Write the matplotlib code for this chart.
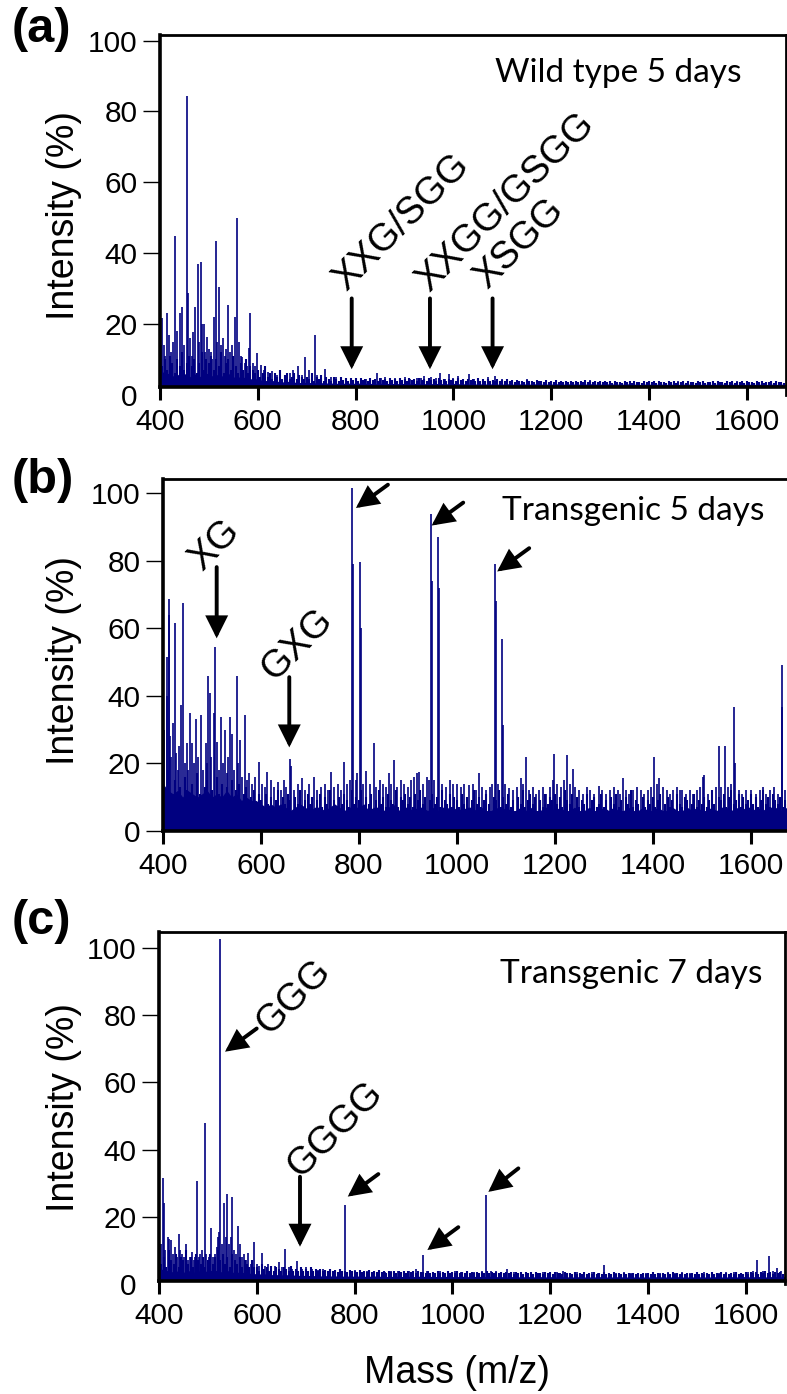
import numpy as np
import matplotlib
matplotlib.use('Agg')
import matplotlib.pyplot as plt

plt.rcParams['font.family'] = ['Liberation Sans', 'DejaVu Sans']

NAVY = '#000080'

# ---------------- data ----------------
grid_mass = list(range(400, 1681, 10))     # solid baseline-fill sampling (10 Da)
noise_mass = list(range(400, 1680, 5))     # noise-stick sampling (5 Da)

# ---- Panel (a) Wild type 5 days ----
a_env = [7, 6, 6, 5, 6, 6, 5, 6, 5, 6, 6, 5, 6, 5, 6, 5, 5, 5, 4.5, 4.5,
         4.5, 4, 4, 4, 3.8, 3.6, 3.8, 3.6, 3.5, 3.4, 3.5, 3.4, 3.3, 3.4, 3.3, 3.3, 3.2, 3.3, 3.2, 3.3,
         3.2, 3.3, 3.2, 3.2, 3.1, 3.2, 3.3, 3.1, 3.2, 3.1, 3.2, 3.1, 3.2, 3.1, 3.1, 3.2, 3.1, 3.2, 3.1, 3.1,
         3.2, 3.1, 3.1, 3.0, 3.1, 3.0, 3.1, 3.0, 3.1, 3.0, 3.0, 3.1, 3.0, 3.0, 3.1, 3.0, 3.0, 3.1, 3.0, 3.0,
         3.0, 3.1, 3.0, 3.0, 3.1, 3.0, 3.0, 3.0, 3.1, 3.0, 3.0, 3.0, 3.1, 3.0, 3.0, 3.0, 3.1, 3.0, 2.9, 3.0,
         3.0, 2.9, 3.0, 3.0, 2.9, 3.0, 2.9, 3.0, 3.0, 2.9, 3.0, 2.9, 3.0, 2.9, 3.0, 3.0, 2.9, 3.0, 2.9, 3.0,
         2.9, 3.0, 2.9, 3.0, 2.9, 3.0, 2.9, 3.0, 2.9]
a_noise = [12, 8, 10, 7, 11, 9, 6, 10, 8, 12, 7, 9, 11, 8, 10, 6, 9, 12, 7, 10,
           9, 11, 7, 10, 8, 12, 6, 9, 10, 7, 11, 8, 6, 9, 7, 10, 6, 8, 7, 6,
           7, 5, 6, 8, 5, 6, 4.5, 6, 5, 7, 4.5, 5.5, 6, 4.5, 5, 6, 4.5, 5.5, 5, 4.5,
           5, 4.5, 6, 4, 5, 4.5, 5.5, 4, 5, 4.5, 4, 5, 4.5, 4, 5, 4.2, 4.6, 4, 4.8, 4.2,
           4.6, 4, 4.8, 4.2, 4.5, 4, 4.7, 4.1, 4.5, 4, 4.8, 4.2, 4.4, 4, 4.6, 4.1, 4.4, 4, 4.6, 4.2,
           4.4, 4, 4.7, 4.1, 4.5, 3.9, 4.6, 4.2, 4.4, 4, 4.8, 4.1, 4.5, 3.9, 4.6, 4.2, 4.4, 4, 4.5, 4.1,
           4.5, 4, 4.6, 4.1, 4.4, 3.9, 4.5, 4.1, 4.3, 3.9, 4.6, 4, 4.3, 3.9, 4.5, 4, 4.2, 3.8, 4.4, 4,
           4.2, 3.8, 4.3, 3.9, 4.1, 3.7, 4.2, 3.8, 4, 3.7, 4.2, 3.8, 4, 3.7, 4.1, 3.8, 3.9, 3.6, 4.1, 3.7,
           3.9, 3.6, 4.1, 3.7, 3.9, 3.5, 4.0, 3.7, 3.8, 3.5, 4.0, 3.6, 3.9, 3.5, 4.1, 3.6, 3.8, 3.5, 3.9, 3.6,
           3.8, 3.5, 4.0, 3.6, 3.8, 3.4, 3.9, 3.6, 3.7, 3.4, 3.9, 3.5, 3.8, 3.4, 4.0, 3.5, 3.7, 3.4, 3.8, 3.5,
           3.9, 3.5, 3.8, 3.4, 3.9, 3.5, 3.7, 3.4, 3.8, 3.5, 3.9, 3.4, 3.7, 3.5, 3.8, 3.4, 3.9, 3.5, 3.7, 3.4,
           3.8, 3.5, 3.9, 3.4, 3.7, 3.5, 3.8, 3.4, 3.9, 3.5, 3.7, 3.4, 3.8, 3.5, 3.9, 3.4, 3.7, 3.5, 3.8, 3.4,
           3.9, 3.5, 3.7, 3.4, 3.8, 3.5, 3.9, 3.4, 3.7, 3.5, 3.8, 3.4, 3.9, 3.5, 3.7, 3.4]
a_peak_mass = [402, 405, 408, 411, 414, 418, 422, 426, 430.6, 435, 440, 445.5, 450, 455.7, 456.5,
               462, 465, 468, 471.4, 476.8, 480, 483, 486, 489.7, 492, 495.8, 500, 504, 507, 510.7,
               513.5, 517, 521, 524, 527.8, 532, 535, 538.7, 543, 548, 553, 558.4, 562, 565, 568.6,
               573, 577, 581, 585, 590, 594, 598.5, 606, 612, 620, 629, 640, 655, 665, 672, 683,
               690, 697, 705, 716, 722, 738, 750, 760, 770, 780, 790, 800, 812, 822, 830, 844, 852,
               860, 870, 880, 890, 900, 912, 925, 933, 940, 955, 965, 973, 982, 990, 1000, 1010,
               1020, 1032, 1042, 1050, 1060, 1070, 1085, 1100, 1120, 1150, 1175, 1210, 1240, 1280,
               1310, 1350, 1390, 1420, 1460, 1500, 1540, 1580, 1620, 1660]
a_peak_int = [14, 21.7, 14, 11, 23, 17, 12, 15, 44.8, 18, 23, 24.9, 14, 84.4, 28.6,
              16, 11, 17.8, 24.7, 36.9, 15, 37.5, 20, 19.9, 12, 16.4, 13, 12, 10, 22,
              43.4, 15, 30.5, 14, 16, 11, 13, 25.3, 12, 14, 22, 49.8, 15, 11, 10.7,
              9, 8, 13.1, 23, 9, 8, 11.7, 8.4, 7, 6.5, 6.8, 5.5, 5.5, 6, 7, 8.1,
              5.5, 10.7, 7, 16.9, 5.5, 7.2, 5, 5, 4.6, 4.8, 4.5, 4.6, 4.8, 4.4, 4.5, 6.2, 4.6,
              5, 4.5, 4.6, 4.4, 5, 4.5, 4.8, 4.6, 5.2, 5, 4.6, 6, 4.5, 5.8, 4.6, 5.2,
              4.5, 5.8, 4.5, 4.8, 4.4, 5, 5.2, 4.5, 4.2, 4.3, 4, 4.2, 4, 4.1,
              3.9, 4, 3.8, 4, 3.9, 3.8, 3.9, 3.8, 3.8, 3.7]

# ---- Panel (b) Transgenic 5 days ----
b_env = [14, 12, 11, 12, 10, 12, 11, 10, 11, 12, 10, 11, 10, 12, 10, 11, 9, 10, 9, 9,
         8, 7, 8, 7, 8, 7, 6, 7, 8, 7, 6, 7, 7, 6, 7, 8, 7, 6, 7, 7,
         7, 8, 6, 7, 7, 6, 7, 8, 6, 7, 7, 6, 7, 7, 6, 7, 6, 7, 7, 6,
         7, 6, 7, 7, 6, 7, 6, 6, 7, 6, 7, 6, 6, 7, 6, 7, 6, 6, 7, 7,
         6, 7, 6, 6, 7, 6, 6, 7, 6, 6, 7, 6, 7, 6, 6, 7, 6, 6, 7, 6,
         6, 7, 6, 6, 7, 6, 6, 7, 6, 7, 6, 6, 7, 6, 7, 7, 6, 7, 6, 7,
         7, 6, 7, 6, 7, 7, 6, 7, 6]
b_noise = [14, 9, 18, 11, 8, 15, 10, 13, 9, 16, 12, 8, 14, 10, 17, 11, 9, 13, 15, 10,
           12, 9, 16, 11, 14, 8, 13, 10, 15, 9, 12, 14, 8, 11, 13, 9, 10, 12, 8, 11,
           9, 7, 11, 8, 10, 6, 9, 12, 7, 10, 8, 11, 9, 6, 10, 8, 12, 7, 9, 11,
           8, 10, 6, 9, 11, 7, 10, 8, 12, 7, 9, 6, 10, 8, 11, 9, 7, 12, 8, 10,
           9, 12, 7, 10, 8, 11, 6, 9, 12, 8, 10, 7, 11, 9, 8, 12, 7, 10, 9, 11,
           8, 10, 7, 11, 9, 12, 8, 10, 6, 9, 11, 8, 10, 7, 12, 9, 8, 11, 7, 10,
           9, 7, 11, 8, 10, 6, 9, 12, 8, 10, 7, 9, 11, 8, 6, 10, 9, 12, 7, 10,
           8, 11, 7, 9, 6, 10, 8, 12, 7, 9, 11, 8, 10, 6, 9, 7, 11, 8, 10, 9,
           11, 8, 10, 7, 12, 9, 8, 11, 6, 10, 7, 9, 8, 11, 6, 9, 10, 7, 8, 11,
           7, 9, 6, 10, 8, 11, 7, 9, 6, 10, 8, 12, 7, 9, 8, 6, 10, 7, 9, 8,
           10, 7, 9, 11, 6, 8, 10, 7, 9, 6, 11, 8, 7, 10, 9, 6, 8, 11, 7, 9,
           8, 10, 7, 9, 12, 8, 6, 10, 9, 11, 7, 10, 12, 8, 9, 11, 7, 10, 8, 9,
           11, 8, 10, 7, 9, 12, 8, 10, 7, 11, 9, 8, 10, 7, 9, 8]
b_peak_mass = [403, 407.5, 409, 411.6, 413, 414.5, 417, 420, 424.5, 427, 430, 433, 436.7, 440,
               444, 448, 452, 455, 460, 463, 467, 472, 477.6, 482, 487, 490, 492.5, 495, 499,
               503.5, 506.8, 510, 514, 518, 522, 526, 530, 533, 537, 541, 545, 551, 554, 557,
               561, 567, 571, 576, 582, 588, 596.6, 603, 608, 612, 620, 626, 634, 640, 646, 652,
               660, 662, 668, 675, 684, 690, 698, 709, 715, 722, 730, 736, 743, 750, 757, 763,
               770, 776, 781, 786, 787.5, 793, 797, 802, 803.5, 808, 815, 822, 830, 835, 842,
               850, 855, 860.7, 866, 871, 878, 885, 892, 900, 907, 912, 918.5, 923, 930, 938,
               944, 947, 948.5, 954, 962, 963.5, 970, 978, 985, 992.5, 1000, 1008, 1015, 1025,
               1032, 1038, 1045.6, 1052, 1060, 1068, 1072, 1077.6, 1079, 1084, 1092, 1093.5,
               1098, 1107, 1115, 1122, 1130.7, 1135, 1141.6, 1148, 1155, 1162, 1167, 1175, 1182,
               1190, 1196, 1199, 1205, 1212, 1218, 1224, 1230, 1236, 1242, 1250, 1258, 1265,
               1272, 1280, 1290, 1297, 1305, 1312, 1320, 1328, 1333, 1339, 1345, 1352, 1360,
               1368, 1375, 1382, 1390, 1397, 1403, 1408, 1413, 1420, 1428, 1435, 1442, 1450,
               1455, 1460, 1467, 1475, 1482, 1490, 1497, 1503, 1505, 1512, 1520, 1528, 1535,
               1540, 1548, 1553, 1560, 1566, 1568, 1575, 1582, 1590, 1600, 1610, 1618, 1625,
               1632, 1640, 1648, 1655, 1663, 1664.5, 1670, 1676]
b_peak_int = [30, 51.6, 40, 68.6, 63.9, 28, 22, 32, 61.5, 23, 18, 25, 37.3, 67.4,
              20, 26, 18, 35, 26, 20, 33, 22, 34.3, 18, 26, 20, 45.7, 40.7, 22,
              35, 54.4, 26.4, 18, 33.8, 20, 29.9, 17, 22, 33.8, 28.7, 18, 45.7, 20, 27,
              16, 34.3, 15, 17, 14, 16, 20.5, 14, 13, 17.5, 15, 13, 14.6, 12, 15, 13,
              21.3, 19.2, 12, 14, 15.5, 12, 14, 16, 12, 13, 14, 12, 17.5, 13, 14, 12,
              20.5, 14, 15, 101.5, 79, 15, 17, 79.5, 60, 14, 17.7, 14, 26, 13, 15,
              14, 13, 17, 14, 21, 13, 15, 14, 13, 15, 16, 17, 17.5, 14, 16,
              15, 93.8, 74, 15, 87, 72, 14, 13, 15, 14, 14, 13, 14, 13.6,
              14, 12, 17, 13, 12, 13, 14, 79, 68, 14, 56.7, 31.3,
              14, 12.6, 12, 13, 15.6, 14, 22, 12, 13, 11, 12, 13, 11,
              13, 15, 22.7, 14, 13, 15, 22.5, 14, 18.2, 13, 12, 11, 13,
              12, 11, 13.3, 12, 11, 12, 13, 12, 11, 15.5, 12, 11, 12,
              13, 12, 11, 12, 13, 22, 14, 15.5, 13, 12, 11, 12, 13,
              12, 12, 11, 12, 11, 12, 13, 16, 16.5, 11, 12, 13, 25,
              13, 25, 13, 14, 36.6, 20, 12, 11, 12, 12, 11, 12, 13,
              11, 12, 13, 11, 49, 36.8, 12, 11]

# ---- Panel (c) Transgenic 7 days ----
c_env = [5, 4, 4, 3.5, 4, 3.5, 4, 3.5, 4, 3.5, 4, 4, 4, 3.5, 4, 3.5, 3.5, 3.5, 3.2, 3.2,
         3, 3, 3, 2.8, 2.8, 2.7, 2.8, 2.6, 2.7, 2.5, 2.6, 2.5, 2.5, 2.4, 2.5, 2.4, 2.4, 2.4, 2.3, 2.4,
         2.3, 2.4, 2.3, 2.3, 2.4, 2.3, 2.3, 2.2, 2.3, 2.3, 2.2, 2.3, 2.2, 2.3, 2.3, 2.2, 2.3, 2.2, 2.2, 2.3,
         2.2, 2.2, 2.3, 2.2, 2.2, 2.3, 2.2, 2.2, 2.3, 2.2, 2.2, 2.1, 2.2, 2.2, 2.1, 2.2, 2.2, 2.1, 2.2, 2.1,
         2.2, 2.1, 2.1, 2.2, 2.1, 2.1, 2.2, 2.1, 2.1, 2.1, 2.2, 2.1, 2.1, 2.1, 2.2, 2.1, 2.1, 2.1, 2.1, 2.1,
         2.1, 2.1, 2.2, 2.1, 2.1, 2.1, 2.2, 2.1, 2.1, 2.1, 2.2, 2.1, 2.1, 2.1, 2.2, 2.1, 2.1, 2.2, 2.1, 2.2,
         2.2, 2.1, 2.2, 2.2, 2.1, 2.2, 2.2, 2.1, 2.2]
c_noise = [9, 6, 8, 5, 10, 7, 6, 9, 5, 8, 7, 10, 6, 8, 5, 9, 7, 6, 8, 5,
           7, 9, 6, 8, 10, 7, 9, 6, 8, 5, 9, 7, 6, 8, 5, 7, 6, 5, 7, 5,
           5, 4, 6, 4.5, 5, 4, 5.5, 4, 5, 4.5, 4, 5, 4.5, 4, 5.5, 4, 4.5, 4, 5, 4,
           4.5, 4, 5, 3.8, 4.4, 4, 4.6, 3.8, 4.2, 4, 4.5, 3.8, 4.2, 3.6, 4.4, 3.8, 4, 3.6, 4.2, 3.8,
           4, 3.6, 4.3, 3.7, 4, 3.5, 4.2, 3.6, 3.9, 3.5, 4.1, 3.6, 3.9, 3.4, 4, 3.6, 3.8, 3.4, 4, 3.5,
           3.8, 3.4, 4.0, 3.5, 3.8, 3.3, 3.9, 3.5, 3.7, 3.3, 3.9, 3.4, 3.7, 3.3, 3.8, 3.4, 3.6, 3.3, 3.8, 3.4,
           3.7, 3.3, 3.8, 3.4, 3.6, 3.2, 3.8, 3.4, 3.6, 3.2, 3.7, 3.3, 3.6, 3.2, 3.8, 3.3, 3.6, 3.2, 3.7, 3.3,
           3.6, 3.2, 3.7, 3.3, 3.5, 3.1, 3.7, 3.3, 3.5, 3.1, 3.6, 3.2, 3.5, 3.1, 3.6, 3.2, 3.4, 3.1, 3.6, 3.2,
           3.5, 3.1, 3.6, 3.2, 3.4, 3.0, 3.6, 3.2, 3.4, 3.0, 3.5, 3.1, 3.4, 3.0, 3.5, 3.1, 3.4, 3.0, 3.5, 3.1,
           3.4, 3.0, 3.5, 3.1, 3.3, 3.0, 3.5, 3.1, 3.3, 3.0, 3.4, 3.0, 3.3, 2.9, 3.4, 3.0, 3.3, 2.9, 3.4, 3.0,
           3.4, 3.0, 3.5, 3.1, 3.3, 2.9, 3.4, 3.0, 3.3, 2.9, 3.5, 3.0, 3.3, 2.9, 3.4, 3.1, 3.3, 2.9, 3.4, 3.0,
           3.5, 3.0, 3.4, 3.1, 3.3, 2.9, 3.5, 3.0, 3.4, 2.9, 3.5, 3.1, 3.3, 2.9, 3.4, 3.0, 3.5, 3.0, 3.4, 3.1,
           3.6, 3.1, 3.5, 3.2, 3.7, 3.1, 3.6, 3.2, 3.8, 3.2, 3.6, 3.1, 3.7, 3.2, 3.5, 3.1]
c_peak_mass = [404, 408.8, 410, 413, 418, 421, 424.5, 428, 432, 436, 440, 443, 447, 451, 455,
               459, 463, 467, 471, 474, 477.5, 481, 484, 488, 493.8, 497, 502, 506, 510, 514,
               518, 521, 523, 525, 529, 532.5, 536, 540, 544, 547, 550.2, 554, 558, 562.5, 565,
               569, 573, 578, 583, 588, 594, 600, 605, 610, 616, 622, 630, 638, 646, 652, 657.6,
               665, 672, 683, 692, 700, 712, 725, 735, 748, 760, 770, 781, 790, 800, 812, 825,
               838, 850, 862, 875, 888, 900, 912, 925, 939.7, 948, 960, 975, 990, 1005, 1018,
               1030, 1045, 1060, 1068, 1078, 1090, 1100, 1111, 1125, 1140, 1155, 1170, 1185,
               1200, 1213, 1226, 1240, 1255, 1270, 1285, 1298, 1309, 1320, 1335, 1350, 1365,
               1380, 1395, 1410, 1425, 1440, 1455, 1470, 1485, 1500, 1515, 1530, 1545, 1560,
               1576, 1590, 1605, 1615, 1623, 1635, 1648, 1655, 1663, 1672]
c_peak_int = [12, 31.4, 24, 10, 14, 13.5, 13, 9, 11, 8, 15, 10, 9, 8, 12,
              7, 8, 9.5, 7, 8, 30.7, 8, 9, 10, 47.8, 9, 8, 16.6, 8, 9,
              11, 14, 15.6, 102.5, 12, 24.2, 14, 26.8, 12, 14, 26, 10, 9, 17.2, 12,
              8, 9, 7, 9.3, 6, 12.6, 6, 5.5, 9.3, 5.5, 6, 5, 5.5, 6.6, 5, 10.3,
              5, 4.5, 6.8, 4.5, 5, 4.5, 4.2, 4.6, 4, 4.3, 4, 23.5, 4, 4.2, 3.8, 4,
              3.6, 4.1, 3.7, 3.8, 4, 3.6, 3.8, 4.5, 8.6, 4, 3.6, 3.8, 3.5, 3.8, 3.5,
              3.7, 3.6, 4, 26.5, 4, 3.8, 3.6, 4.4, 3.5, 3.7, 3.4, 3.6, 3.5,
              3.4, 3.6, 4, 3.4, 3.5, 3.3, 3.5, 3.4, 5.6, 3.4, 3.3, 3.5, 3.2,
              3.4, 3.3, 3.4, 3.3, 3.7, 3.3, 3.5, 3.3, 3.4, 3.5, 3.3, 3.4, 3.5,
              3.5, 3.3, 3.6, 3.8, 7.1, 3.8, 8.3, 4, 4.7, 3.8]

x_ticks = [400, 600, 800, 1000, 1200, 1400, 1600]
y_ticks = [0, 20, 40, 60, 80, 100]

# ---------------- figure ----------------
W, H = 787, 1394
fig = plt.figure(figsize=(W / 100, H / 100), dpi=100)


def px_axes(left, right, bottom, top):
    return fig.add_axes([left / W, 1 - bottom / H, (right - left) / W, (bottom - top) / H])


def setup(ax, ytop, base):
    ax.set_xlim(400, 1680)
    ax.set_ylim(0, ytop)
    ax.spines['bottom'].set_position(('data', base))
    ax.spines['left'].set_bounds(base, ytop)
    ax.spines['left'].set_linewidth(2.6)
    ax.spines['bottom'].set_linewidth(2.6)
    ax.spines['top'].set_linewidth(2.0)
    ax.spines['right'].set_linewidth(2.0)
    ax.set_xticks(x_ticks)
    ax.set_yticks(y_ticks)
    ax.tick_params(axis='x', direction='out', length=9, width=2.2, pad=6, labelsize=21.5)
    ax.tick_params(axis='y', direction='out', length=12, width=1.0, pad=4, labelsize=21.5)
    if base > 0.5:
        ax.yaxis.get_major_ticks()[0].tick1line.set_visible(False)


def spectrum(ax, env, noise, pm, pi, base):
    ax.fill_between(grid_mass, base, env, color=NAVY, lw=0)
    ax.vlines(noise_mass, base, noise, color=NAVY, lw=1.5)
    ax.vlines(pm, base, pi, color=NAVY, lw=1.2)


def arrow(ax, start, tip):
    ax.annotate('', xy=tip, xytext=start,
                arrowprops=dict(arrowstyle='-|>,head_length=0.6,head_width=0.3',
                                color='k', lw=2.8, shrinkA=0, shrinkB=0,
                                mutation_scale=20, joinstyle='miter'),
                annotation_clip=False)


lab_kw = dict(fontsize=27.5, rotation=45, ha='center', va='center')
title_kw = dict(fontsize=24, family=['Lato', 'DejaVu Sans'], ha='center', va='baseline')

# (a)
axA = px_axes(160, 786, 394.7, 35)
setup(axA, 101.6, 2.2)
spectrum(axA, a_env, a_noise, a_peak_mass, a_peak_int, 2.2)
for m in (792, 952, 1080):
    arrow(axA, (m, 27.2), (m, 7.2))
axA.text(893, 48.5, 'XXG/SGG', **lab_kw)
axA.text(1105.5, 54.4, 'XXGG/GSGG', **lab_kw)
axA.text(1134, 42.6, 'XSGG', **lab_kw)
axA.text(1336, 88.3, 'Wild type 5 days', **title_kw)

# (b)
axB = px_axes(163, 790, 830.8, 479.3)
setup(axB, 104.1, 0.0)
spectrum(axB, b_env, b_noise, b_peak_mass, b_peak_int, 0.0)
arrow(axB, (509.6, 78.1), (509.6, 57.0))
arrow(axB, (657.8, 45.5), (657.8, 24.7))
arrow(axB, (859.2, 102.5), (793.9, 95.6))
arrow(axB, (1012.9, 97.2), (948.4, 90.4))
arrow(axB, (1147.6, 83.7), (1082.2, 76.8))
axB.text(506, 84.4, 'XG', **lab_kw)
axB.text(672.9, 55.0, 'GXG', **lab_kw)
axB.text(1359, 91.9, 'Transgenic 5 days', **title_kw)

# (c)
axC = px_axes(159, 785, 1284, 931.7)
setup(axC, 104.8, 0.9)
spectrum(axC, c_env, c_noise, c_peak_mass, c_peak_int, 0.9)
arrow(axC, (599.8, 76.0), (535, 69.1))
arrow(axC, (688.3, 31.9), (688.3, 11.1))
arrow(axC, (848.5, 32.7), (785.9, 26.0))
arrow(axC, (1012, 16.9), (948.7, 10.1))
arrow(axC, (1134.8, 34.4), (1073.4, 27.4))
axC.text(676, 85.2, 'GGG', **lab_kw)
axC.text(760, 45.8, 'GGGG', **lab_kw)
axC.text(1365, 89.6, 'Transgenic 7 days', **title_kw)

# axis labels
for yc in (216, 661, 1108):
    fig.text(64 / W, 1 - yc / H, 'Intensity (%)', rotation=90, ha='center', va='center', fontsize=27)
fig.text(457 / W, 1 - 1373 / H, 'Mass (m/z)', ha='center', va='center', fontsize=27)

# panel letters
for lab, yc in (('(a)', 30), ('(b)', 481), ('(c)', 921)):
    fig.text(12 / W, 1 - yc / H, lab, ha='left', va='center', fontsize=35, fontweight='bold')

fig.savefig('out.png', dpi=100)
